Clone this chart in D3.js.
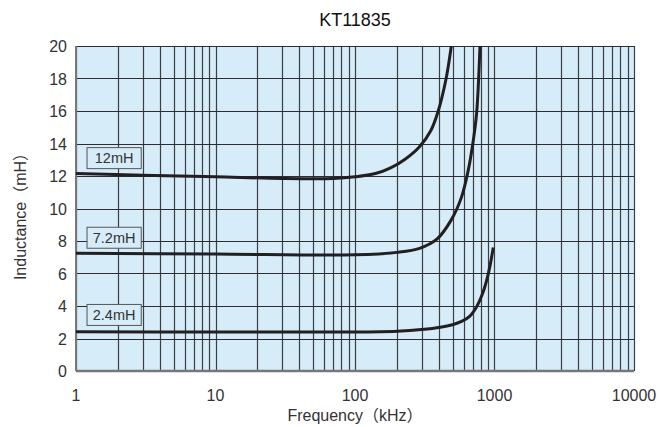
<!DOCTYPE html>
<html>
<head>
<meta charset="utf-8">
<script src="https://cdn.jsdelivr.net/npm/d3@7"></script>
<style>
  body { margin: 0; background: #fff; }
  text { font-family: "Liberation Sans", Arial, "Noto Sans CJK JP", sans-serif; }
</style>
</head>
<body>
<svg id="chart" width="661" height="427"></svg>
<script>
const title = 'KT11835'
const x_title = 'Frequency（kHz）'
const y_title = 'Inductance（mH）'

const x_ticks = [1, 10, 100, 1000, 10000]
const y_ticks = [0, 2, 4, 6, 8, 10, 12, 14, 16, 18, 20]

// frequency in kHz, inductance in mH
const curve_12 = [
  [1, 12.15], [3, 12.05], [10, 11.95], [30, 11.85], [70, 11.85],
  [100, 11.95], [140, 12.15], [180, 12.5], [230, 13.05], [290, 13.8],
  [350, 14.8], [395, 16.0], [450, 18.0], [490, 20.0]
]
const curve_72 = [
  [1, 7.25], [10, 7.2], [100, 7.15], [200, 7.3], [290, 7.55], [390, 8.15],
  [490, 9.3], [580, 10.7], [650, 12.4], [705, 14.2], [745, 15.9], [787, 20.0]
]
const curve_24 = [
  [1, 2.42], [10, 2.4], [100, 2.4], [200, 2.45], [300, 2.55], [410, 2.69],
  [500, 2.85], [580, 3.05], [660, 3.35], [745, 3.96], [820, 4.75],
  [880, 5.6], [930, 6.5], [980, 7.6]
]
const curves = [curve_12, curve_72, curve_24]

const labels = ['12mH', '7.2mH', '2.4mH']
const label_values = [13.1, 8.2, 3.45]

const svg = d3.select('#chart')
const margin = { left: 76, right: 27, top: 46, bottom: 56 }
const width = 661 - margin.left - margin.right
const height = 427 - margin.top - margin.bottom

const x = d3.scaleLog().domain([1, 10000]).range([0, width])
const y = d3.scaleLinear().domain([0, 20]).range([height, 0])

const g = svg.append('g').attr('transform', `translate(${margin.left},${margin.top})`)

g.append('rect')
  .attr('width', width)
  .attr('height', height)
  .attr('fill', '#d6ecf9')

// minor + major vertical grid
const x_grid = []
for (let d = 1; d < 10000; d *= 10)
  for (let k = 1; k < 10; k++) x_grid.push(d * k)
x_grid.push(10000)

g.selectAll('.vgrid')
  .data(x_grid)
  .enter()
  .append('line')
  .attr('class', 'vgrid')
  .attr('x1', (d)=> Math.round(x(d)) + 0.5)
  .attr('x2', (d)=> Math.round(x(d)) + 0.5)
  .attr('y1', 0)
  .attr('y2', height)
  .attr('stroke', '#3a3f44')
  .attr('stroke-width', 1.2)

g.selectAll('.hgrid')
  .data(y_ticks)
  .enter()
  .append('line')
  .attr('class', 'hgrid')
  .attr('x1', 0)
  .attr('x2', width)
  .attr('y1', (d)=> Math.round(y(d)) + 0.5)
  .attr('y2', (d)=> Math.round(y(d)) + 0.5)
  .attr('stroke', '#2a2e33')
  .attr('stroke-width', 1.2)

// frame (left and bottom a bit heavier, grey)
g.append('line').attr('x1', 0).attr('x2', 0).attr('y1', 0).attr('y2', height)
  .attr('stroke', '#777').attr('stroke-width', 2)
g.append('line').attr('x1', 0).attr('x2', width).attr('y1', height).attr('y2', height)
  .attr('stroke', '#777').attr('stroke-width', 2.5)

// curves
const line = d3.line()
  .x((d)=> x(d[0]))
  .y((d)=> y(d[1]))
  .curve(d3.curveCatmullRom.alpha(0.5))

g.append('clipPath').attr('id', 'clip')
  .append('rect').attr('width', width).attr('height', height)

g.selectAll('.curve')
  .data(curves)
  .enter()
  .append('path')
  .attr('class', 'curve')
  .attr('clip-path', 'url(#clip)')
  .attr('d', line)
  .attr('fill', 'none')
  .attr('stroke', '#231f20')
  .attr('stroke-width', 3)

// labels in boxes
const box_x0 = x(1.19)
const box_x1 = x(2.91)
const tags = g.selectAll('.tag')
  .data(labels)
  .enter()
  .append('g')
  .attr('class', 'tag')
  .attr('transform', (d, i)=> `translate(${box_x0},${y(label_values[i])})`)

tags.append('rect')
  .attr('x', 0.5)
  .attr('y', -10.5)
  .attr('width', box_x1 - box_x0)
  .attr('height', 21)
  .attr('fill', '#d6ecf9')
  .attr('stroke', '#555')
  .attr('stroke-width', 1)

tags.append('text')
  .attr('x', (box_x1 - box_x0) / 2 + 0.5)
  .attr('y', 5)
  .attr('text-anchor', 'middle')
  .attr('font-size', 14.5)
  .attr('fill', '#333')
  .text((d)=> d)

// tick labels
svg.selectAll('.xtick')
  .data(x_ticks)
  .enter()
  .append('text')
  .attr('class', 'xtick')
  .attr('x', (d)=> margin.left + x(d))
  .attr('y', margin.top + height + 30)
  .attr('text-anchor', 'middle')
  .attr('font-size', 16)
  .attr('fill', '#333')
  .text((d)=> d)

svg.selectAll('.ytick')
  .data(y_ticks)
  .enter()
  .append('text')
  .attr('class', 'ytick')
  .attr('x', margin.left - 9)
  .attr('y', (d)=> margin.top + y(d) + 6)
  .attr('text-anchor', 'end')
  .attr('font-size', 16)
  .attr('fill', '#333')
  .text((d)=> d)

svg.append('text')
  .attr('x', margin.left + width / 2)
  .attr('y', 26)
  .attr('text-anchor', 'middle')
  .attr('font-size', 18)
  .attr('fill', '#111')
  .text(title)

svg.append('text')
  .attr('x', margin.left + width / 2)
  .attr('y', 421)
  .attr('text-anchor', 'middle')
  .attr('font-size', 16)
  .attr('fill', '#333')
  .text(x_title)

svg.append('text')
  .attr('transform', `translate(26,${margin.top + height / 2 + 4}) rotate(-90)`)
  .attr('text-anchor', 'middle')
  .attr('font-size', 16)
  .attr('fill', '#333')
  .text(y_title)
</script>
</body>
</html>
